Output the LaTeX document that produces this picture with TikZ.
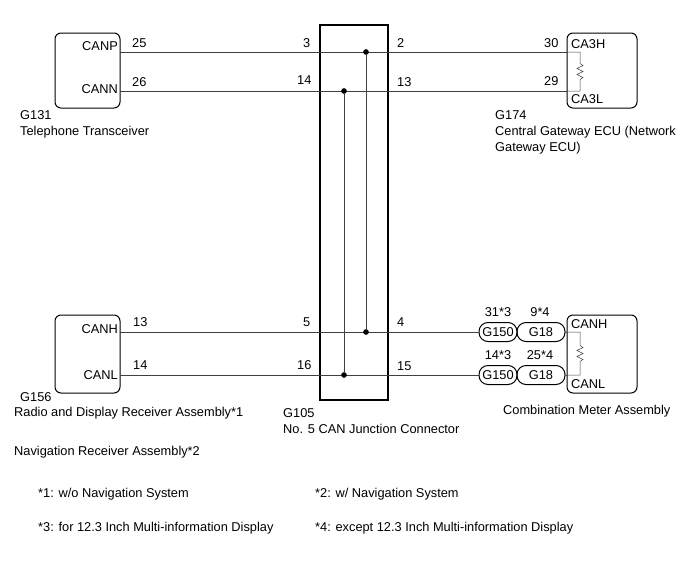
\documentclass[tikz,border=0pt]{standalone}
\usepackage{fontspec}
\setmainfont{Liberation Sans}
\begin{document}
\begin{tikzpicture}[x=1pt,y=-1pt,
  every node/.style={font=\fontsize{12.8}{15}\selectfont,inner sep=0pt},
  box/.style={draw,line width=1pt,rounded corners=6pt},
  wire/.style={draw,line width=0.5pt,black!75},
  oval/.style={draw,line width=1pt,rounded corners=9pt,minimum height=19pt},
  dot/.style={circle,fill,inner sep=2pt},
  lab/.style={anchor=base west},
  rlab/.style={anchor=base east}]
\useasboundingbox (0,0) rectangle (688,560);
% boxes
\draw[box] (55,33) rectangle (120,108);
\draw[box] (567,33) rectangle (637,108);
\draw[box] (55,315) rectangle (120,393);
\draw[box] (567,315) rectangle (637,393);
\draw[line width=1.3pt] (320,25) rectangle (388,400);
\coordinate (tp) at (120,52); \coordinate (tn) at (120,91);
\coordinate (ep) at (567,52); \coordinate (en) at (567,91);
\coordinate (lp) at (120,332); \coordinate (ln) at (120,375);
\node[oval,minimum width=38pt] (g1) at (498,332) {G150};
\node[oval,minimum width=48pt] (g2) at (541,332) {G18};
\node[oval,minimum width=38pt] (g3) at (498,375) {G150};
\node[oval,minimum width=48pt] (g4) at (541,375) {G18};
\draw[wire] (tp) -- (ep); \draw[wire] (tn) -- (en);
\draw[wire] (lp) -- (g1); \draw[wire] (ln) -- (g3);
\node[dot] (d1) at (366,52) {}; \node[dot] (d2) at (344,91) {};
\node[dot] (d3) at (366,332) {}; \node[dot] (d4) at (344,375) {};
\draw[wire] (d1) -- (d3); \draw[wire] (d2) -- (d4);
% resistors
\foreach \ya/\yb in {52/91,332/375}{
 \draw[wire] (567,\ya) -- (580,\ya) -- (580,{(\ya+\yb)/2-8}) -- ++(3,2) -- ++(-6,3) -- ++(6,3) -- ++(-6,3) -- ++(6,3) -- ++(-3,2) -- (580,\yb) -- (567,\yb);}
\draw[wire] (g2.east) -- (567,332); \draw[wire] (g4.east) -- (567,375);
% pin names
\node[rlab] at (118,50) {CANP}; \node[rlab] at (118,93) {CANN};
\node[lab] at (571,48) {CA3H}; \node[lab] at (571,103) {CA3L};
\node[rlab] at (118,333) {CANH}; \node[rlab] at (118,379) {CANL};
\node[lab] at (571,328) {CANH}; \node[lab] at (571,388) {CANL};
% numbers
\node[lab] at (132,47) {25}; \node[lab] at (132,86) {26};
\node[lab] at (303,47) {3}; \node[lab] at (297,84) {14};
\node[lab] at (397,47) {2}; \node[lab] at (397,86) {13};
\node[lab] at (544,47) {30}; \node[lab] at (544,85) {29};
\node[lab] at (133,326) {13}; \node[lab] at (133,369) {14};
\node[lab] at (303,326) {5}; \node[lab] at (297,369) {16};
\node[lab] at (397,326) {4}; \node[lab] at (397,370) {15};
\node at (498,312) {31*3}; \node at (540,312) {9*4};
\node at (498,355) {14*3}; \node at (540,355) {25*4};
% labels
\node[lab] at (20,119) {G131}; \node[lab] at (20,135) {Telephone Transceiver};
\node[lab] at (495,119) {G174}; \node[lab] at (495,135) {Central Gateway ECU (Network};
\node[lab] at (495,151) {Gateway ECU)};
\node[lab] at (20,401) {G156}; \node[lab] at (14,416) {Radio and Display Receiver Assembly*1};
\node[lab] at (283,417) {G105}; \node[lab] at (283,433) {No. 5 CAN Junction Connector};
\node[lab] at (503,414) {Combination Meter Assembly};
\node[lab] at (14,455) {Navigation Receiver Assembly*2};
\node[lab] at (38,497) {*1: w/o Navigation System};
\node[lab] at (315,497) {*2: w/ Navigation System};
\node[lab] at (38,531) {*3: for 12.3 Inch Multi-information Display};
\node[lab] at (315,531) {*4: except 12.3 Inch Multi-information Display};
\end{tikzpicture}
\end{document}
